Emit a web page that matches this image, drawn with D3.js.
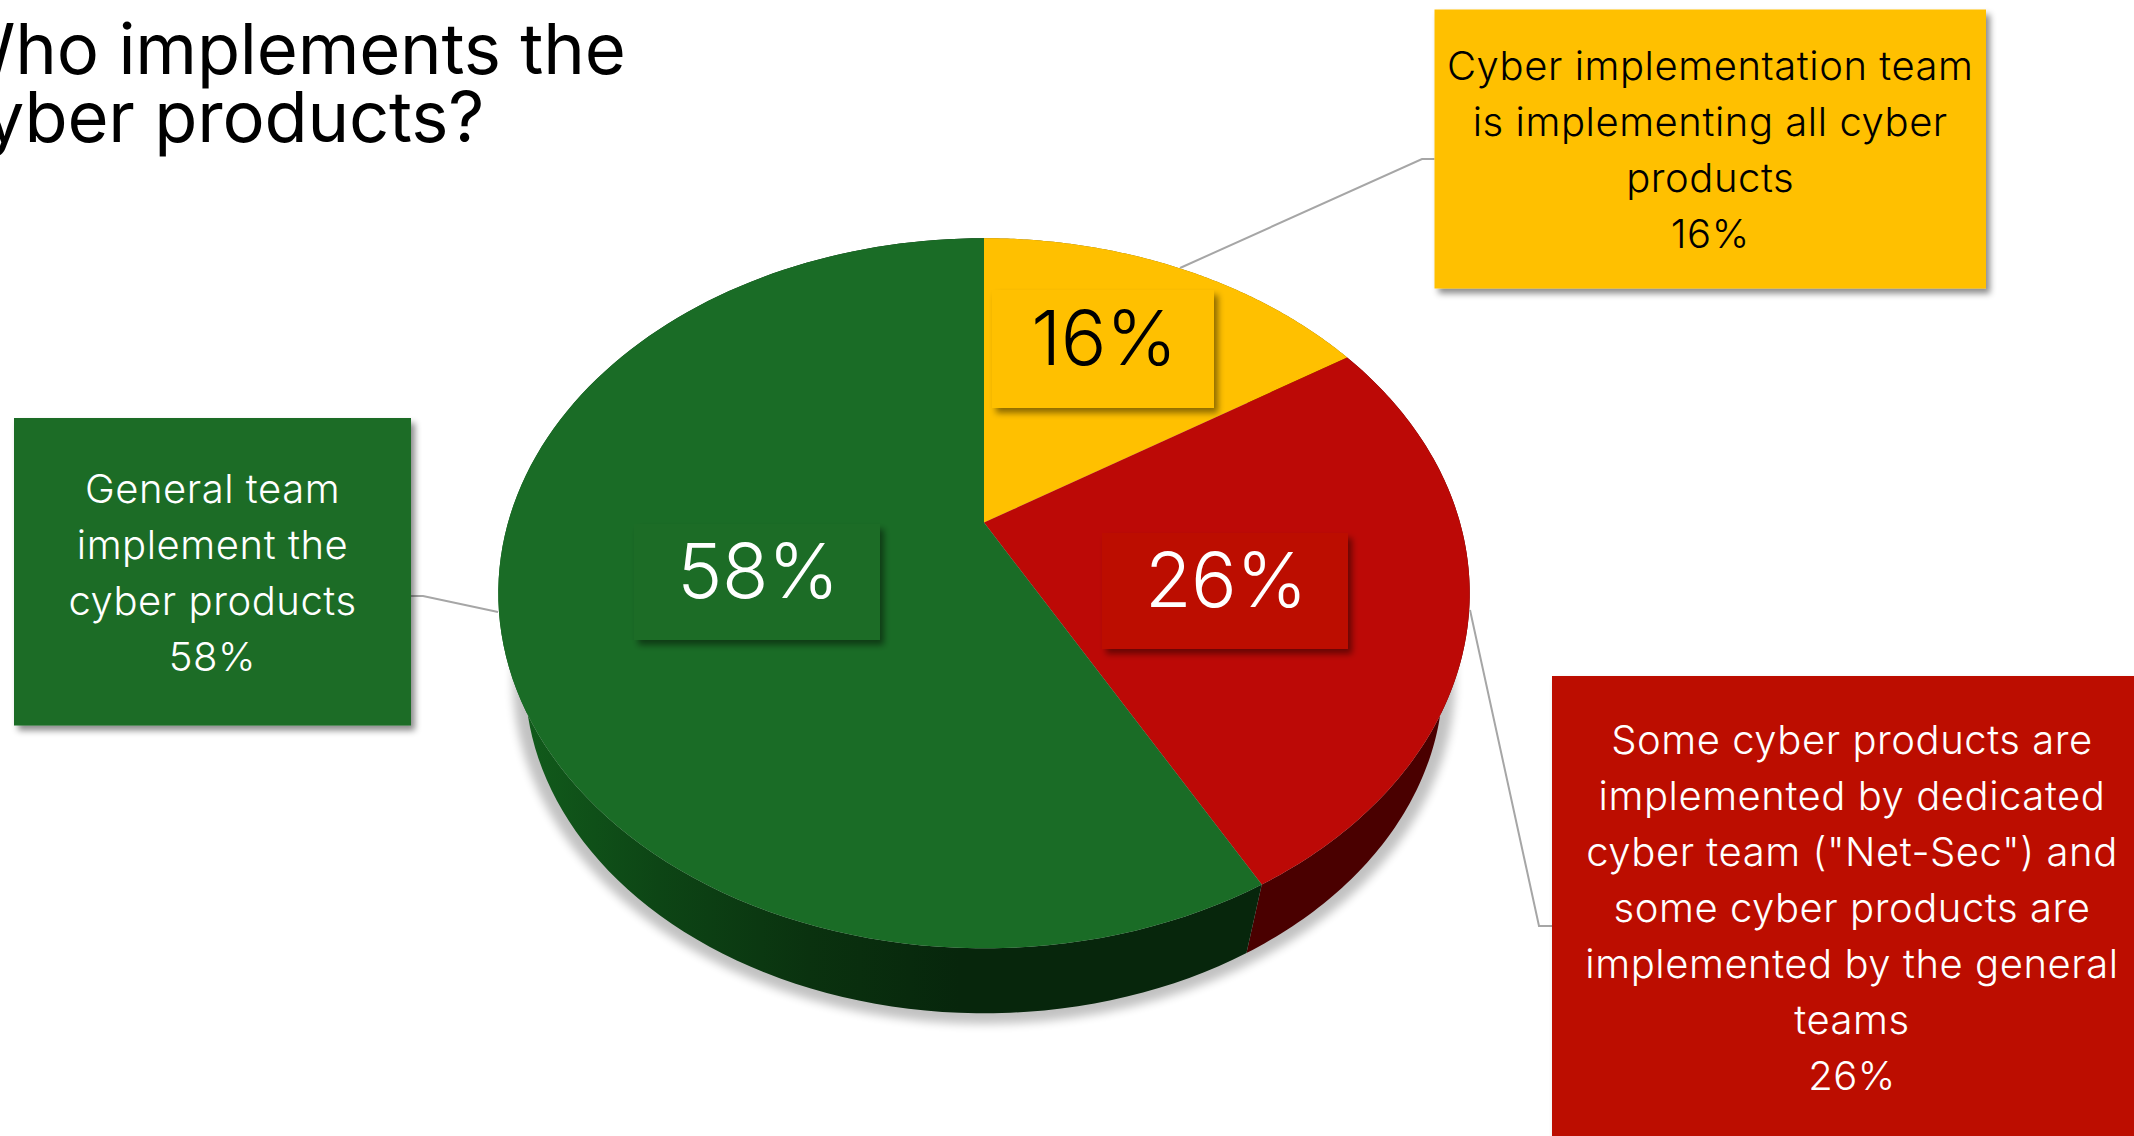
<!DOCTYPE html>
<html><head><meta charset="utf-8">
<script src="https://cdn.jsdelivr.net/npm/d3@7/dist/d3.min.js"></script>
<style>html,body{margin:0;padding:0;background:#fff;overflow:hidden}svg{display:block}text{font-family:Inter,"Open Sans",sans-serif;font-weight:300}</style>
</head><body><svg id="c" width="2134" height="1136"></svg>
<script>
const categories=["Cyber implementation team is implementing all cyber products","Some cyber products are implemented by dedicated cyber team (\"Net-Sec\") and some cyber products are implemented by the general teams","General team implement the cyber products"];
const values=[16,26,58];
const sliceColors=["#FFC000","#BC0906","#1A6C26"];
const sideColors=["#7f6000","#4A0000","url(#sideGreen)"];
const textColors=["#000","#fff","#fff"];
const calloutLines=[["Cyber implementation team","is implementing all cyber","products"],["Some cyber products are","implemented by dedicated","cyber team (\"Net-Sec\") and","some cyber products are","implemented by the general","teams"],["General team","implement the","cyber products"]];
const titleLines=["Who implements the","cyber products?"];
const calloutBoxes=[{x:1434.5,y:9.5,w:551.5,h:279,cy:67,lead:[[1180,268],[1422,159],[1434.5,159]]},{x:1552,y:676,w:620,h:500,cy:741,lead:[[1470,610],[1539,926],[1552,926]]},{x:14,y:418,w:397,h:307.5,cy:490,lead:[[498,612],[423,596],[411,596]]}];
const labelBoxes=[{x:992,y:290,w:222,h:118},{x:1102,y:533,w:246,h:116},{x:634,y:524,w:246,h:116}];

const svg=d3.select("#c");
const defs=svg.append("defs");
const sh=(id,dx,dy,b,o)=>defs.append("filter").attr("id",id).attr("x","-20%").attr("y","-20%").attr("width","140%").attr("height","140%").append("feDropShadow").attr("dx",dx).attr("dy",dy).attr("stdDeviation",b).attr("flood-color","#000").attr("flood-opacity",o);
sh("boxSh",4,5,3,.45);
defs.append("filter").attr("id","blur").attr("x","-10%").attr("y","-10%").attr("width","120%").attr("height","120%").append("feGaussianBlur").attr("stdDeviation",5);
const g=defs.append("linearGradient").attr("id","sideGreen").attr("gradientUnits","userSpaceOnUse").attr("x1",530).attr("x2",960).attr("y1",0).attr("y2",0);
g.append("stop").attr("offset",0).attr("stop-color","#115A1B");
g.append("stop").attr("offset",.3).attr("stop-color","#0D4515");
g.append("stop").attr("offset",.65).attr("stop-color","#0A320F");
g.append("stop").attr("offset",1).attr("stop-color","#07260C");

// perspective disc
const cx=984,cy=522.6,R=476,S=341,P=.199,F=.945,depthY=611;
const rim=(a,f,y0)=>{const u=Math.sin(a),v=-Math.cos(a),w=1-P*v;return [cx+f*R*u/w,y0+f*S*v/w]};
const rimTop=a=>rim(a,1,cy), rimBot=a=>rim(a,F,depthY);
const arcs=d3.pie().sort(null)(values);
const samples=(a,b)=>d3.range(0,121).map(i=>a+(b-a)*i/120);
const line=d3.line();

svg.append("path").attr("d",line(samples(0,2*Math.PI).map(a=>rim(a,.97,611)))+"Z").attr("fill","#000").attr("opacity",.24).attr("filter","url(#blur)");

const side=svg.append("g");
side.selectAll("path").data(arcs).join("path")
 .attr("d",d=>{const s=samples(d.startAngle,d.endAngle);return line(s.map(rimTop).concat(s.slice().reverse().map(rimBot)))+"Z"})
 .attr("fill",(d,i)=>sideColors[i]);

// leaders
svg.append("g").selectAll("path").data(calloutBoxes).join("path").attr("d",d=>line(d.lead)).attr("fill","none").attr("stroke","#A6A6A6").attr("stroke-width",2);

svg.append("g").selectAll("path").data(arcs).join("path")
 .attr("d",d=>{const s=samples(d.startAngle,d.endAngle);return line([[cx,cy]].concat(s.map(rimTop)))+"Z"})
 .attr("fill",(d,i)=>sliceColors[i]);

// data labels
const lab=svg.append("g").selectAll("g").data(arcs).join("g");
lab.append("rect").attr("x",(d,i)=>labelBoxes[i].x).attr("y",(d,i)=>labelBoxes[i].y).attr("width",(d,i)=>labelBoxes[i].w).attr("height",(d,i)=>labelBoxes[i].h).attr("fill",(d,i)=>sliceColors[i]).attr("filter","url(#boxSh)");
lab.append("text").attr("x",(d,i)=>labelBoxes[i].x+labelBoxes[i].w/2+1).attr("y",(d,i)=>labelBoxes[i].y+labelBoxes[i].h/2+16).attr("text-anchor","middle").attr("font-size",76).attr("letter-spacing",-.5).attr("fill",(d,i)=>textColors[i]).text(d=>d.value+"%");

// callouts
const co=svg.append("g").selectAll("g").data(arcs).join("g");
co.append("rect").attr("x",(d,i)=>calloutBoxes[i].x).attr("y",(d,i)=>calloutBoxes[i].y).attr("width",(d,i)=>calloutBoxes[i].w).attr("height",(d,i)=>calloutBoxes[i].h).attr("fill",(d,i)=>sliceColors[i]).attr("filter","url(#boxSh)");
co.each(function(d,i){const b=calloutBoxes[i];
 d3.select(this).selectAll("text").data(calloutLines[i].concat([d.value+"%"])).join("text")
 .attr("x",b.x+b.w/2-(i==1?10:0)).attr("y",(t,j)=>b.cy+13+j*56).attr("text-anchor","middle").attr("font-size",40).attr("letter-spacing",.55).attr("fill",textColors[i]).text(t=>t);
});

svg.append("g").selectAll("text").data(titleLines).join("text").attr("x",-54).attr("y",(t,i)=>74+i*68).attr("font-size",70.5).attr("letter-spacing",-.2).style("font-weight",400).attr("fill","#000").text(t=>t);
</script></body></html>
